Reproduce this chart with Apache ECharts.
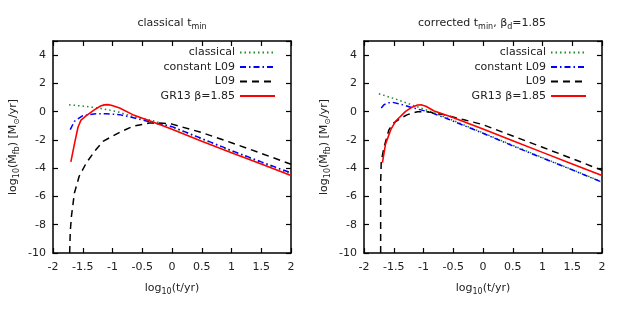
<!DOCTYPE html>
<html><head><meta charset="utf-8">
<script src="https://cdn.jsdelivr.net/npm/echarts@6/dist/echarts.min.js"></script>
<style>html,body{margin:0;padding:0;background:#fff}#c{width:623px;height:311px}</style>
</head><body><div id="c"></div>
<script>
// ---- data ----
var xTicks = [-2, -1.5, -1, -0.5, 0, 0.5, 1, 1.5, 2];
var yTicks = [-10, -8, -6, -4, -2, 0, 2, 4];
var seriesNames = ['classical', 'constant L09', 'L09', 'GR13 β=1.85'];

// left panel: classical t_min
var leftClassical = [[-1.73,0.49],[-1.4,0.35],[-1.16,0.2],[-0.9,-0.02],[-0.71,-0.28],[-0.32,-0.64],[0,-1.08],[0.5,-1.93],[1,-2.78],[1.5,-3.6],[2,-4.4]];
var leftConstL09 = [[-1.71,-1.27],[-1.64,-0.68],[-1.5,-0.28],[-1.28,-0.14],[-1.1,-0.15],[-0.88,-0.21],[-0.63,-0.45],[-0.27,-0.82],[0,-1.06],[0.5,-1.9],[1,-2.75],[1.5,-3.55],[2,-4.33]];
var leftL09 = [[-1.72,-10],[-1.71,-8.5],[-1.69,-7.4],[-1.64,-5.75],[-1.56,-4.57],[-1.44,-3.63],[-1.3,-2.8],[-1.16,-2.1],[-0.88,-1.46],[-0.66,-1.04],[-0.38,-0.8],[-0.21,-0.8],[0,-0.88],[0.5,-1.48],[1,-2.2],[1.5,-2.95],[2,-3.72]];
var leftGR13 = [[-1.7,-3.55],[-1.64,-2.3],[-1.58,-1.1],[-1.53,-0.6],[-1.44,-0.28],[-1.3,0.14],[-1.2,0.4],[-1.14,0.48],[-1.08,0.5],[-1.02,0.46],[-0.88,0.26],[-0.66,-0.21],[-0.32,-0.73],[0,-1.25],[0.5,-2.1],[1,-2.9],[1.5,-3.7],[2,-4.52]];

// right panel: corrected t_min, beta_d = 1.85
var rightClassical = [[-1.75,1.27],[-1.44,0.85],[-1.16,0.42],[-0.88,0.02],[-0.6,-0.45],[0,-1.5],[0.5,-2.38],[1,-3.25],[1.5,-4.1],[2,-4.97]];
var rightConstL09 = [[-1.71,0.26],[-1.66,0.5],[-1.6,0.62],[-1.52,0.66],[-1.4,0.55],[-1.16,0.25],[-0.88,-0.05],[-0.6,-0.5],[0,-1.53],[0.5,-2.42],[1,-3.28],[1.5,-4.12],[2,-4.99]];
var rightL09 = [[-1.72,-10],[-1.72,-5],[-1.71,-3.5],[-1.66,-2.45],[-1.58,-1.27],[-1.5,-0.8],[-1.38,-0.45],[-1.27,-0.21],[-1.1,0],[-0.95,0],[-0.88,-0.05],[-0.66,-0.21],[-0.32,-0.57],[0,-0.92],[0.5,-1.72],[1,-2.52],[1.5,-3.32],[2,-4.15]];
var rightGR13 = [[-1.69,-3.6],[-1.64,-2.33],[-1.55,-1.27],[-1.47,-0.68],[-1.3,0.02],[-1.2,0.3],[-1.1,0.47],[-1.03,0.48],[-0.96,0.38],[-0.82,0.05],[-0.54,-0.36],[0,-1.22],[0.5,-2.05],[1,-2.88],[1.5,-3.7],[2,-4.52]];

// ---- styling ----
var FONT = 'DejaVu Sans';
var TXT = '#222';
var styles = [
  {color:'#228B22', type:[1.5,3], width:1.5},
  {color:'#0000ff', type:[6,3,1.5,3], width:1.5},
  {color:'#000000', type:[7,5], width:1.5},
  {color:'#ff0000', type:'solid', width:1.6}
];
var rich = {
  n: {fontFamily: FONT, fontSize: 11, fontWeight: 'normal', color: TXT, lineHeight: 16, verticalAlign: 'middle'},
  s: {fontFamily: FONT, fontSize: 8, fontWeight: 'normal', color: TXT, lineHeight: 8, verticalAlign: 'bottom'}
};

function mkX(gi, bottom) {
  return {
    type: 'value', gridIndex: gi, min: xTicks[0], max: xTicks[xTicks.length-1], interval: 0.5,
    position: bottom ? 'bottom' : 'top',
    axisLine: {show: true, onZero: false, lineStyle: {color: '#000', width: 1.5}},
    axisTick: {show: true, inside: true, length: 5, lineStyle: {color: '#000', width: 1.2}},
    axisLabel: {show: bottom, margin: 9, fontFamily: FONT, fontSize: 11, color: TXT,
      formatter: function(v){ return xTicks.indexOf(v) >= 0 ? String(v) : ''; }},
    splitLine: {show: false},
    name: bottom ? '{n|log}{s|10}{n|(t/yr)}' : '', nameLocation: 'middle', nameGap: 27,
    nameTextStyle: {rich: rich}
  };
}
function mkY(gi, left) {
  return {
    type: 'value', gridIndex: gi, min: -10, max: 5, interval: 2,
    position: left ? 'left' : 'right',
    axisLine: {show: true, onZero: false, lineStyle: {color: '#000', width: 1.5}},
    axisTick: {show: true, inside: true, length: 5, lineStyle: {color: '#000', width: 1.2}},
    axisLabel: {show: left, margin: 7, fontFamily: FONT, fontSize: 11, color: TXT,
      formatter: function(v){ return yTicks.indexOf(v) >= 0 ? String(v) : ''; }},
    splitLine: {show: false},
    name: left ? '{n|log}{s|10}{n|(Ṁ}{s|fb}{n|) [M}{s|⊙}{n|/yr]}' : '',
    nameLocation: 'middle', nameRotate: 90, nameGap: 32,
    nameTextStyle: {rich: rich}
  };
}

var panels = [
  [leftClassical, leftConstL09, leftL09, leftGR13],
  [rightClassical, rightConstL09, rightL09, rightGR13]
];
var series = [];
panels.forEach(function(p, pi){
  p.forEach(function(d, si){
    series.push({
      type: 'line', name: seriesNames[si], data: d,
      xAxisIndex: pi*2, yAxisIndex: pi*2,
      showSymbol: false, symbol: 'none', smooth: false, clip: true,
      lineStyle: styles[si], itemStyle: {color: styles[si].color},
      emphasis: {disabled: true}, z: si === 3 ? 5 : 3
    });
  });
});

function mkLegend(right) {
  return {
    orient: 'vertical', align: 'right', right: right, top: 47, padding: 0,
    itemWidth: 35, itemHeight: 10, itemGap: 3.5,
    textStyle: {fontFamily: FONT, fontSize: 11, color: TXT},
    itemStyle: {color: 'rgba(0,0,0,0)', borderColor: 'rgba(0,0,0,0)', borderWidth: 0},
    data: seriesNames.map(function(n){ return {name: n}; }),
    selectedMode: false
  };
}

var chart = echarts.init(document.getElementById('c'), null, {renderer: 'canvas'});
chart.setOption({
  animation: false,
  backgroundColor: '#fff',
  title: [
    {text: '{n|classical t}{s|min}', left: 167, top: 10, textAlign: 'center', textStyle: {fontWeight: 'normal', rich: rich}},
    {text: '{n|corrected t}{s|min}{n|, β}{s|d}{n|=1.85}', left: 477, top: 10, textAlign: 'center', textStyle: {fontWeight: 'normal', rich: rich}}
  ],
  grid: [
    {left: 53, top: 41, width: 238, height: 212, containLabel: false},
    {left: 364, top: 41, width: 238, height: 212, containLabel: false}
  ],
  xAxis: [mkX(0, true), mkX(0, false), mkX(1, true), mkX(1, false)],
  yAxis: [mkY(0, true), mkY(0, false), mkY(1, true), mkY(1, false)],
  legend: [mkLegend(347), mkLegend(36)],
  series: series
});
</script></body></html>
